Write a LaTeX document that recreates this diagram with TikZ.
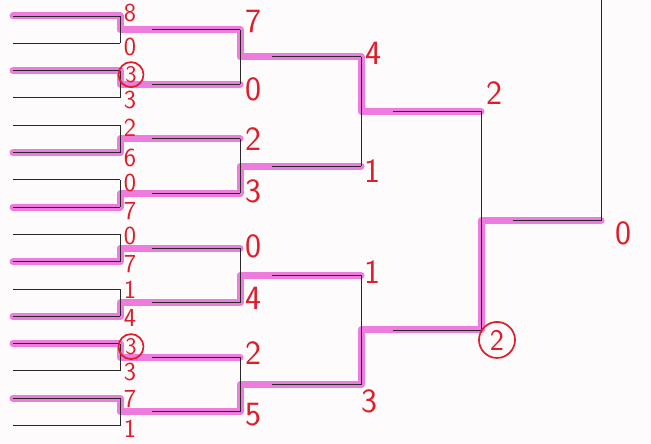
\documentclass[tikz,border=0pt]{standalone}
\usepackage{tikz}
\usetikzlibrary{positioning,calc}
\definecolor{inkred}{RGB}{222,30,42}
\definecolor{hilite}{RGB}{238,124,222}
\definecolor{paper}{RGB}{253,251,251}
\definecolor{pencil}{RGB}{40,40,40}
\tikzset{
  rule/.style={draw=pencil,line width=0.9pt},
  marker/.style={draw=hilite,line width=7pt,line cap=round,line join=round},
  score/.style={text=inkred,inner sep=0pt,font=\sffamily\fontsize{26}{26}\selectfont},
  bigscore/.style={score,font=\sffamily\fontsize{34}{34}\selectfont},
  ringed/.style={score,circle,draw=inkred,line width=1.7pt,inner sep=1pt,minimum size=25pt}
}

\begin{document}
\begin{tikzpicture}[x=1pt,y=-1pt]
\fill[paper] (0,0) rectangle (651,444);
\useasboundingbox (0,0) rectangle (651,444);
% slots of each round
\foreach \i in {1,...,16}{
  \coordinate (a\i) at (13,{16+27.3*(\i-1)});
  \coordinate (A\i) at (120,{16+27.3*(\i-1)});}
\foreach \i in {1,...,8}{
  \coordinate (b\i) at (152,{29.65+54.6*(\i-1)});
  \coordinate (B\i) at (240,{29.65+54.6*(\i-1)});}
\foreach \i in {1,...,4}{
  \coordinate (c\i) at (272,{56.95+109.2*(\i-1)});
  \coordinate (C\i) at (361,{56.95+109.2*(\i-1)});}
\foreach \i in {1,2}{
  \coordinate (d\i) at (393,{111.55+218.4*(\i-1)});
  \coordinate (D\i) at (481,{111.55+218.4*(\i-1)});}
\coordinate (e) at (513,220.75);
\coordinate (E) at (601,220.75);
\coordinate (top) at (601,0);

% highlighter
\begin{scope}[xshift=-1pt,yshift=3pt]
\draw[marker] (a1) -- (A1) |- (B1) |- (C1) |- (D1);
\draw[marker] (a3) -- (A3) |- (B2);
\draw[marker] (a6) -- (A6) |- (B3);
\draw[marker] (a8) -- (A8) |- (B4) |- (C2);
\draw[marker] (a10) -- (A10) |- (B5);
\draw[marker] (a12) -- (A12) |- (B6) |- (C3);
\draw[marker] (a13) -- (A13) |- (B7);
\draw[marker] (a15) -- (A15) |- (B8) |- (C4) |- (D2) |- (E);
\end{scope}

% bracket
\foreach \i in {1,...,16} \draw[rule] (a\i) -- (A\i);
\foreach \i [evaluate=\i as \k using int(\i+1)] in {1,3,...,15} \draw[rule] (A\i) -- (A\k);
\foreach \i in {1,...,8} \draw[rule] (b\i) -- (B\i);
\foreach \i [evaluate=\i as \k using int(\i+1)] in {1,3,5,7} \draw[rule] (B\i) -- (B\k);
\foreach \i in {1,...,4} \draw[rule] (c\i) -- (C\i);
\draw[rule] (C1) -- (C2);
\draw[rule] (C3) -- (C4);
\draw[rule] (d1) -- (D1) -- (D2) -- (d2);
\draw[rule] (e) -- (E) -- (top);

% scores
\foreach \i/\s/\dy in {1/8/-3,2/0/4,4/3/2,5/2/3,6/6/5,7/0/3,8/7/4,9/0/2,10/7/2,11/1/1,12/4/2,14/3/1,15/7/1,16/1/3}
  \node[score] (p\i) at ([shift={(10,\dy)}]A\i) {\s};
\node[ringed,font=\sffamily\fontsize{24}{24}\selectfont] (p3) at ([shift={(11,4)}]A3) {3};
\node[ringed,font=\sffamily\fontsize{24}{24}\selectfont] (p13) at ([shift={(11,3)}]A13) {3};
\foreach \i/\s/\dy in {1/7/-8,2/0/5,3/2/0,4/3/-2,5/0/-2,6/4/-4,7/2/-4,8/5/3}
  \node[bigscore] (q\i) at ([shift={(13,\dy)}]B\i) {\s};
\foreach \i/\s/\dx/\dy in {1/4/12/-4,2/1/11/5,3/1/11/-3,4/3/8/17}
  \node[bigscore] (t\i) at ([shift={(\dx,\dy)}]C\i) {\s};
\node[bigscore] (f1) at ([shift={(13,-18)}]D1) {2};
\node[ringed,font=\sffamily\fontsize{30}{30}\selectfont,minimum size=36pt] (f2) at ([shift={(16,10)}]D2) {2};
\node[bigscore] (w) at ([shift={(22,13)}]E) {0};
\end{tikzpicture}
\end{document}
